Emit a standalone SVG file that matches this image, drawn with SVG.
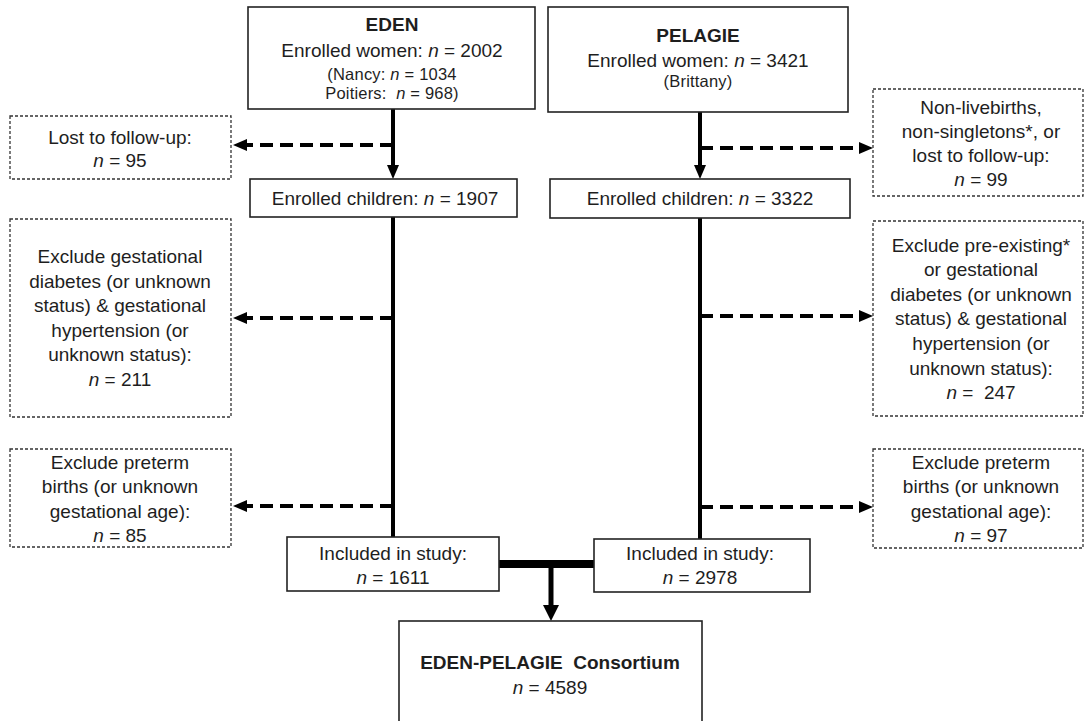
<svg xmlns="http://www.w3.org/2000/svg" width="1086" height="721" viewBox="0 0 1086 721">
<style>
text{font-family:"Liberation Sans",Arial,sans-serif;font-size:19px;fill:#1e1e1e;text-anchor:middle}
.b{font-weight:bold}
.s{font-size:16.5px;letter-spacing:0.2px}
.i{font-style:italic}
.box{fill:#fff;stroke:#222;stroke-width:1.6}
.dbox{fill:#fff;stroke:#333;stroke-width:1.3;stroke-dasharray:3 2}
.solid{stroke:#000;stroke-width:4;fill:none}
.dash{stroke:#000;stroke-width:4;fill:none;stroke-dasharray:13 7}
</style>
<defs>
<marker id="ah" markerUnits="userSpaceOnUse" viewBox="0 0 14 12" refX="2" refY="6" markerWidth="14" markerHeight="12" orient="auto">
<path d="M0,0 L14,6 L0,12 z" fill="#000"/>
</marker>
<marker id="ahb" markerUnits="userSpaceOnUse" viewBox="0 0 16 16" refX="2" refY="8" markerWidth="16" markerHeight="16" orient="auto">
<path d="M0,0 L16,8 L0,16 z" fill="#000"/>
</marker>
</defs>
<g id="connectors">
<line class="solid" x1="393" y1="109" x2="393" y2="167" marker-end="url(#ah)"/>
<line class="solid" x1="700" y1="112" x2="700" y2="167" marker-end="url(#ah)"/>
<line class="dash" x1="393" y1="145" x2="245" y2="145" marker-end="url(#ah)"/>
<line class="dash" x1="700" y1="148" x2="861" y2="148" marker-end="url(#ah)"/>
<line class="solid" x1="393" y1="217" x2="393" y2="537"/>
<line class="solid" x1="700" y1="218" x2="700" y2="539"/>
<line class="dash" x1="393" y1="318" x2="245" y2="318" marker-end="url(#ah)"/>
<line class="dash" x1="393" y1="506" x2="245" y2="506" marker-end="url(#ah)"/>
<line class="dash" x1="700" y1="316" x2="861" y2="316" marker-end="url(#ah)"/>
<line class="dash" x1="700" y1="507" x2="861" y2="507" marker-end="url(#ah)"/>
<line stroke="#000" stroke-width="8" x1="499" y1="564" x2="594" y2="564"/>
<line stroke="#000" stroke-width="5" x1="551" y1="564" x2="551" y2="607" marker-end="url(#ahb)"/>
</g>
<g id="eden">
<rect class="box" x="248" y="7" width="287" height="102"/>
<text class="b" x="392" y="31">EDEN</text>
<text x="392" y="56.5">Enrolled women: <tspan class="i">n</tspan> = 2002</text>
<text class="s" x="392" y="80">(Nancy: <tspan class="i">n</tspan> = 1034</text>
<text class="s" x="392" y="98.5">Poitiers:&#160; <tspan class="i">n</tspan> = 968)</text>
</g>
<g id="pelagie">
<rect class="box" x="548" y="7" width="300" height="105"/>
<text class="b" x="698" y="42">PELAGIE</text>
<text x="698" y="67">Enrolled women: <tspan class="i">n</tspan> = 3421</text>
<text class="s" x="698" y="87">(Brittany)</text>
</g>
<g id="lost-eden">
<rect class="dbox" x="10" y="116" width="221" height="63"/>
<text x="120" y="143.5">Lost to follow-up:</text>
<text x="120" y="166.5"><tspan class="i">n</tspan> = 95</text>
</g>
<g id="lost-pelagie">
<rect class="dbox" x="873" y="89" width="210" height="107"/>
<text x="981" y="113.5">Non-livebirths,</text>
<text x="981" y="137.5">non-singletons*, or</text>
<text x="981" y="161.5">lost to follow-up:</text>
<text x="981" y="186"><tspan class="i">n</tspan> = 99</text>
</g>
<g id="children-eden">
<rect class="box" x="250" y="179" width="267" height="38"/>
<text x="385" y="204.5">Enrolled children: <tspan class="i">n</tspan> = 1907</text>
</g>
<g id="children-pelagie">
<rect class="box" x="550" y="179" width="300" height="39"/>
<text x="700" y="204.5">Enrolled children: <tspan class="i">n</tspan> = 3322</text>
</g>
<g id="gest-eden">
<rect class="dbox" x="10" y="219" width="221" height="198"/>
<text x="120" y="263">Exclude gestational</text>
<text x="120" y="287.6">diabetes (or unknown</text>
<text x="120" y="312.2">status) &amp; gestational</text>
<text x="120" y="336.8">hypertension (or</text>
<text x="120" y="361.4">unknown status):</text>
<text x="120" y="386"><tspan class="i">n</tspan> = 211</text>
</g>
<g id="gest-pelagie">
<rect class="dbox" x="873" y="221" width="210" height="195"/>
<text x="981" y="251.5">Exclude pre-existing*</text>
<text x="981" y="276">or gestational</text>
<text x="981" y="300.7">diabetes (or unknown</text>
<text x="981" y="325.3">status) &amp; gestational</text>
<text x="981" y="349.9">hypertension (or</text>
<text x="981" y="374.5">unknown status):</text>
<text x="981" y="399"><tspan class="i">n</tspan> =&#160; 247</text>
</g>
<g id="preterm-eden">
<rect class="dbox" x="10" y="449" width="221" height="98"/>
<text x="120" y="468.5">Exclude preterm</text>
<text x="120" y="493">births (or unknown</text>
<text x="120" y="517.5">gestational age):</text>
<text x="120" y="541.5"><tspan class="i">n</tspan> = 85</text>
</g>
<g id="preterm-pelagie">
<rect class="dbox" x="873" y="449" width="210" height="99"/>
<text x="981" y="468.5">Exclude preterm</text>
<text x="981" y="493">births (or unknown</text>
<text x="981" y="517.5">gestational age):</text>
<text x="981" y="541.5"><tspan class="i">n</tspan> = 97</text>
</g>
<g id="included-eden">
<rect class="box" x="287" y="537" width="212" height="54"/>
<text x="393" y="559.5">Included in study:</text>
<text x="393" y="583.5"><tspan class="i">n</tspan> = 1611</text>
</g>
<g id="included-pelagie">
<rect class="box" x="594" y="539" width="216" height="53"/>
<text x="700" y="559.5">Included in study:</text>
<text x="700" y="584"><tspan class="i">n</tspan> = 2978</text>
</g>
<g id="consortium">
<rect class="box" x="399" y="621" width="303" height="110"/>
<text class="b" x="550" y="668.5">EDEN-PELAGIE&#160; Consortium</text>
<text x="550" y="693.5"><tspan class="i">n</tspan> = 4589</text>
</g>
</svg>
